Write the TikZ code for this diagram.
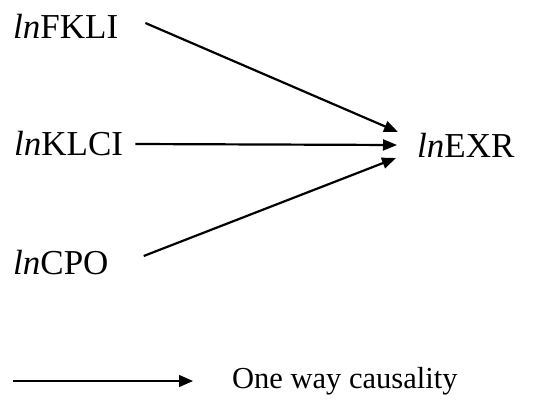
\documentclass[tikz,border=0pt]{standalone}
\usepackage{fontspec}
\setmainfont{Liberation Serif}
\usepackage{xcolor}
\usepackage{tikz}
\usetikzlibrary{arrows.meta,positioning}
\definecolor{cText}{HTML}{000000}
\tikzset{
  var/.style={inner sep=0pt, anchor=west, font=\fontsize{35}{40}\selectfont, text=cText},
  legtxt/.style={inner sep=0pt, anchor=west, font=\fontsize{30.5}{35}\selectfont, text=cText},
  arr/.style={-{Triangle[length=14pt, width=11pt]}, line width=2.2pt, cText},
  legarr/.style={-{Triangle[length=14pt, width=12pt]}, line width=1.3pt, cText}
}
\begin{document}
\begin{tikzpicture}[x=1pt, y=-1pt]
\useasboundingbox[fill=white] (0,0) rectangle (552,400);
% ----- variables -----
\node[var] (fkli) at (13,26) {\textit{ln}FKLI};
\node[var] (klci) at (14,144) {\textit{ln}KLCI};
\node[var] (cpo) at (13,263) {\textit{ln}CPO};
\node[var] (exr) at (417,145) {\textit{ln}EXR};
\draw[arr] ([xshift=27pt, yshift=3pt]fkli.east) -- ([xshift=-19pt, yshift=13pt]exr.west);
\draw[arr] ([xshift=12pt]klci.east) -- ([xshift=-20pt]exr.west);
\draw[arr] ([xshift=35pt, yshift=7pt]cpo.east) -- ([xshift=-21pt, yshift=-13pt]exr.west);
% ----- legend -----
\coordinate (lgA) at (13,381);
\node[legtxt] (lgtxt) at (232,381) {One way causality};
\draw[legarr] (lgA) -- ([xshift=-39pt]lgtxt.west);
\end{tikzpicture}
\end{document}
